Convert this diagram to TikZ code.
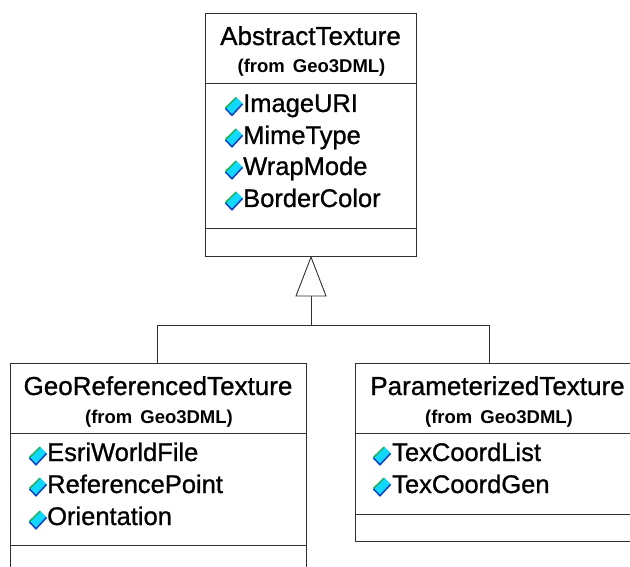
\documentclass[tikz,border=0pt]{standalone}
\usepackage{fontspec}
\setmainfont{Liberation Sans}
\newfontfamily\umlfont[FakeBold=0.9]{Liberation Sans}
\newfontfamily\umlsmall{Liberation Sans Bold}
\usetikzlibrary{arrows.meta}
\definecolor{umlline}{HTML}{303030}
\definecolor{iconcyan}{HTML}{10D8FF}
\definecolor{iconblue}{HTML}{1040C0}
\definecolor{icongreen}{HTML}{20B050}
\newcommand{\attricon}[2]{%
 \begin{scope}[shift={(#1,#2)}]
  \fill[iconcyan] (-9,2) -- (2,-9.5) -- (9,-2.5) -- (-2,9.5) -- cycle;
  \draw[line width=1.5pt,color=iconblue,line join=round] (-8.5,2) -- (-2,8.8) -- (8.5,-2.5);
  \draw[line width=1.5pt,color=icongreen] (-8.5,1.5) -- (2,-8.8);
 \end{scope}}
\tikzset{
 x=1pt,y=-1pt,
 classbox/.style={draw=umlline,line width=0.9pt,fill=white,minimum width=#1,inner sep=0pt,anchor=north west},
 titletxt/.style={font=\umlfont\fontsize{26}{28}\selectfont,text=black,inner sep=0pt,anchor=base},
 fromtxt/.style={font=\bfseries\fontsize{18.5}{20}\selectfont,text=black,inner sep=0pt,anchor=base},
 attrtxt/.style={font=\umlfont\fontsize{25.5}{27}\selectfont,text=black,inner sep=0pt,anchor=base west},
 divider/.style={draw=umlline,line width=0.9pt},
 wire/.style={draw=umlline,line width=0.9pt},
 gentip/.style={draw=umlline,line width=0.9pt,fill=white},
}
\newcommand{\fromgeo}{(from\hspace{8pt}Geo3DML)}
\begin{document}
\begin{tikzpicture}
\useasboundingbox (0,0) rectangle (630,567);
\clip (0,0) rectangle (630,567);
\fill[white] (0,0) rectangle (630,567);
% boxes
\node[classbox=211pt,minimum height=243pt] (abs) at (205,13) {};
\node[classbox=296pt,minimum height=240pt] (geo) at (10,363) {};
\node[classbox=300pt,minimum height=178pt] (par) at (355,363) {};
% dividers
\coordinate (a1) at (205,83); \coordinate (a1r) at (416,83);
\coordinate (a2) at (205,228); \coordinate (a2r) at (416,228);
\coordinate (g1) at (10,433); \coordinate (g1r) at (306,433);
\coordinate (g2) at (10,545); \coordinate (g2r) at (306,545);
\coordinate (p1) at (355,433); \coordinate (p1r) at (655,433);
\coordinate (p2) at (355,514); \coordinate (p2r) at (655,514);
\draw[divider] (a1)--(a1r) (a2)--(a2r) (g1)--(g1r) (g2)--(g2r) (p1)--(p1r) (p2)--(p2r);
% generalization
\coordinate (apex) at (311,257);
\coordinate (bl) at (296,296);
\coordinate (br) at (326,296);
\coordinate (stem) at (311,296);
\coordinate (junction) at (311,325);
\coordinate (jl) at (157,325);
\coordinate (jr) at (489,325);
\draw[wire] (stem) -- (junction);
\draw[wire] (geo.north -| jl) -- (jl) -- (jr) -- (par.north -| jr);
\draw[gentip] (apex) -- (bl) -- (br) -- cycle;
% texts
\node[titletxt] (t1) at (310.5,45) {AbstractTexture};
\node[fromtxt] (f1) at (311.5,73) {\fromgeo};
\node[titletxt] (t2) at (158,395) {GeoReferencedTexture};
\node[fromtxt] (f2) at (159,423) {\fromgeo};
\node[titletxt] (t3) at (497.5,395) {ParameterizedTexture};
\node[fromtxt] (f3) at (499,423) {\fromgeo};
\attricon{234}{106.5}\node[attrtxt] (a) at (243,112) {ImageURI};
\attricon{234}{138}\node[attrtxt] (b) at (243,144) {MimeType};
\attricon{234}{170}\node[attrtxt] (c) at (243,175) {WrapMode};
\attricon{234}{201}\node[attrtxt] (d) at (243,207) {BorderColor};
\attricon{38}{456}\node[attrtxt] (e) at (47,461) {EsriWorldFile};
\attricon{38}{487}\node[attrtxt] (f) at (47,493) {ReferencePoint};
\attricon{38}{520}\node[attrtxt] (g) at (47,525) {Orientation};
\attricon{382}{456}\node[attrtxt] (h) at (392,461) {TexCoordList};
\attricon{382}{487}\node[attrtxt] (i) at (392,493) {TexCoordGen};
\end{tikzpicture}
\end{document}
